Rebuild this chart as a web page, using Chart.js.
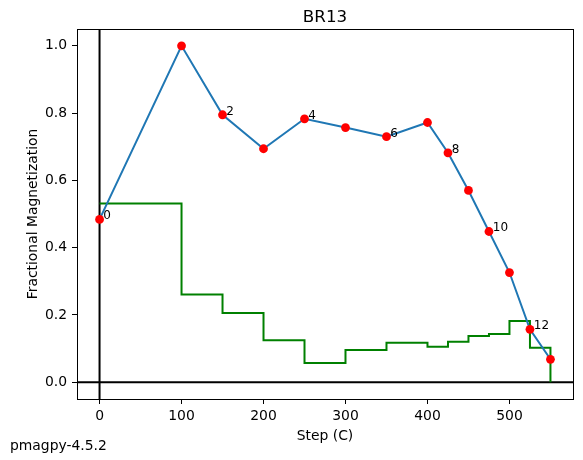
<!DOCTYPE html>
<html>
<head>
<meta charset="utf-8">
<script src="https://cdn.jsdelivr.net/npm/chart.js@4.4.1/dist/chart.umd.min.js"></script>
<style>
    body { margin: 0; background: #fff; }
    #chart { display: block; }
</style>
</head>
<body>
<canvas id="chart" width="583" height="460"></canvas>
<script>
// データ
const specimen = 'BR13';
const steps = [0, 100, 150, 200, 250, 300, 350, 400, 425, 450, 475, 500, 525, 550];
const magnetization = [0.484, 1.0, 0.795, 0.694, 0.783, 0.757, 0.730, 0.772, 0.682, 0.570, 0.448, 0.326, 0.157, 0.068];
const vectorDiff = [0.531, 0.261, 0.206, 0.125, 0.057, 0.096, 0.117, 0.105, 0.120, 0.137, 0.143, 0.182, 0.102, 0];
const xTickValues = [0, 100, 200, 300, 400, 500];
const yTickValues = [0, 0.2, 0.4, 0.6, 0.8, 1.0];
const xLabel = 'Step (C)';
const yLabel = 'Fractional Magnetization';
const versionText = 'pmagpy-4.5.2';

const FONT = '"DejaVu Sans", sans-serif';

// 点のペア
const magPoints = steps.map((s, i) => ({ x: s, y: magnetization[i] }));
const diffPoints = steps.map((s, i) => ({ x: s, y: vectorDiff[i] }));

// 補助線・枠・文字を描くプラグイン
const decorations = {
    id: 'decorations',
    beforeDatasetsDraw(chart) {
        const ctx = chart.ctx;
        const a = chart.chartArea;
        const xs = chart.scales.x, ys = chart.scales.y;
        ctx.save();
        ctx.beginPath();
        ctx.rect(a.left, a.top, a.right - a.left, a.bottom - a.top);
        ctx.clip();
        ctx.strokeStyle = '#000';
        ctx.lineWidth = 2;
        const x0 = xs.getPixelForValue(0);
        const y0 = ys.getPixelForValue(0);
        ctx.beginPath();
        ctx.moveTo(x0, a.top);
        ctx.lineTo(x0, a.bottom);
        ctx.moveTo(a.left, y0);
        ctx.lineTo(a.right, y0);
        ctx.stroke();
        ctx.restore();
    },
    afterDraw(chart) {
        const ctx = chart.ctx;
        const a = chart.chartArea;
        const xs = chart.scales.x, ys = chart.scales.y;
        ctx.save();
        // 枠
        ctx.strokeStyle = '#000';
        ctx.lineWidth = 1;
        ctx.strokeRect(Math.round(a.left) + 0.5, Math.round(a.top) + 0.5,
            Math.round(a.right - a.left), Math.round(a.bottom - a.top));

        // 点のラベル（偶数番号）
        ctx.fillStyle = '#000';
        ctx.font = '12px ' + FONT;
        ctx.textAlign = 'left';
        ctx.textBaseline = 'alphabetic';
        steps.forEach((s, i) => {
            if (i % 2 === 0) {
                ctx.fillText(' ' + i, xs.getPixelForValue(s), ys.getPixelForValue(magnetization[i]));
            }
        });

        // タイトル
        const cx = (a.left + a.right) / 2;
        ctx.font = '16.7px ' + FONT;
        ctx.textAlign = 'center';
        ctx.fillText(specimen, cx, 22);

        // 軸ラベル
        ctx.font = '13.9px ' + FONT;
        ctx.fillText(xLabel, cx, 439.5);
        ctx.save();
        ctx.translate(36.8, (a.top + a.bottom) / 2);
        ctx.rotate(-Math.PI / 2);
        ctx.fillText(yLabel, 0, 0);
        ctx.restore();

        // バージョン
        ctx.textAlign = 'left';
        ctx.fillText(versionText, 10, 449.5);
        ctx.restore();
    }
};

new Chart(document.getElementById('chart'), {
    type: 'scatter',
    data: {
        datasets: [{
            type: 'line',
            data: diffPoints,
            borderColor: '#008000',
            borderWidth: 2,
            stepped: 'before',
            pointRadius: 0,
            fill: false,
            order: 3
        }, {
            type: 'line',
            data: magPoints,
            borderColor: '#1f77b4',
            borderWidth: 2,
            tension: 0,
            pointRadius: 0,
            fill: false,
            order: 2
        }, {
            type: 'scatter',
            data: magPoints,
            backgroundColor: '#ff0000',
            borderWidth: 0,
            pointRadius: 4.4,
            order: 1
        }]
    },
    options: {
        responsive: false,
        animation: false,
        devicePixelRatio: 1,
        layout: { padding: { top: 29, right: 10, left: 0, bottom: 0 } },
        plugins: {
            legend: { display: false },
            tooltip: { enabled: false }
        },
        scales: {
            x: {
                type: 'linear',
                min: -27.5,
                max: 577.5,
                afterFit(scale) { scale.height = 61; },
                afterBuildTicks(scale) { scale.ticks = xTickValues.map(v => ({ value: v })); },
                ticks: {
                    color: '#000',
                    font: { family: FONT, size: 13.9 },
                    padding: 4,
                    maxRotation: 0,
                    callback: v => String(v)
                },
                grid: { drawOnChartArea: false, drawTicks: true, tickLength: 5, color: '#000', tickWidth: 1 },
                border: { display: true, color: '#000', width: 1 }
            },
            y: {
                type: 'linear',
                min: -0.05,
                max: 1.05,
                afterFit(scale) { scale.width = 77; },
                afterBuildTicks(scale) { scale.ticks = yTickValues.map(v => ({ value: v })); },
                ticks: {
                    color: '#000',
                    font: { family: FONT, size: 13.9 },
                    padding: 5,
                    callback: v => v.toFixed(1)
                },
                grid: { drawOnChartArea: false, drawTicks: true, tickLength: 5, color: '#000', tickWidth: 1 },
                border: { display: true, color: '#000', width: 1 }
            }
        }
    },
    plugins: [decorations]
});
</script>
</body>
</html>
